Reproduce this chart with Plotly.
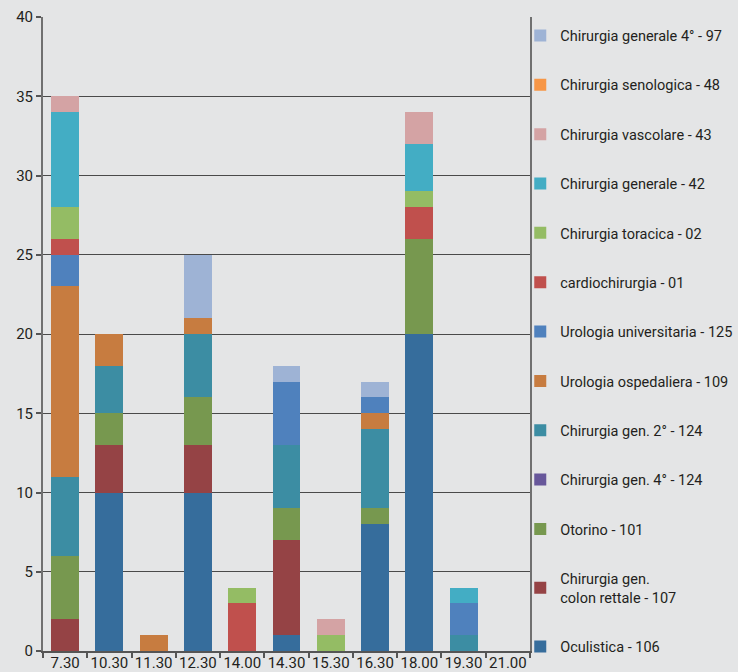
import plotly.graph_objects as go

categories = ["7.30", "10.30", "11.30", "12.30", "14.00", "14.30", "15.30", "16.30", "18.00", "19.30", "21.00"]

# series listed bottom of stack -> top
oculistica        = [0, 10, 0, 10, 0, 1, 0, 8, 20, 0, 0]
colon_rettale     = [2, 3, 0, 3, 0, 6, 0, 0, 0, 0, 0]
otorino           = [4, 2, 0, 3, 0, 2, 0, 1, 6, 0, 0]
gen4_124          = [0, 0, 0, 0, 0, 0, 0, 0, 0, 0, 0]
gen2_124          = [5, 3, 0, 4, 0, 4, 0, 5, 0, 1, 0]
urol_osp          = [12, 2, 1, 1, 0, 0, 0, 1, 0, 0, 0]
urol_univ         = [2, 0, 0, 0, 0, 4, 0, 1, 0, 2, 0]
cardio            = [1, 0, 0, 0, 3, 0, 0, 0, 2, 0, 0]
toracica          = [2, 0, 0, 0, 1, 0, 1, 0, 1, 0, 0]
generale_42       = [6, 0, 0, 0, 0, 0, 0, 0, 3, 1, 0]
vascolare         = [1, 0, 0, 0, 0, 0, 1, 0, 2, 0, 0]
senologica        = [0, 0, 0, 0, 0, 0, 0, 0, 0, 0, 0]
gen4_97           = [0, 0, 0, 4, 0, 1, 0, 1, 0, 0, 0]

series = [
    ("Oculistica - 106", oculistica, "#366D9C"),
    ("Chirurgia gen.<br>colon rettale - 107", colon_rettale, "#954345"),
    ("Otorino - 101", otorino, "#77984F"),
    ("Chirurgia gen. 4° - 124", gen4_124, "#67579A"),
    ("Chirurgia gen. 2° - 124", gen2_124, "#3C8DA3"),
    ("Urologia ospedaliera - 109", urol_osp, "#C77C40"),
    ("Urologia universitaria - 125", urol_univ, "#4F81BD"),
    ("cardiochirurgia - 01", cardio, "#C0504D"),
    ("Chirurgia toracica - 02", toracica, "#94BC64"),
    ("Chirurgia generale - 42", generale_42, "#43ADC4"),
    ("Chirurgia vascolare - 43", vascolare, "#D4A3A4"),
    ("Chirurgia senologica - 48", senologica, "#F79646"),
    ("Chirurgia generale 4° - 97", gen4_97, "#9EB3D5"),
]

FONT = "Roboto, Open Sans, sans-serif"
TXT = "#231F20"
BG = "#E4E5E6"

fig = go.Figure()
n = len(series)
for i, (name, vals, col) in enumerate(series):
    fig.add_trace(go.Bar(
        x=categories, y=vals, name=name, marker=dict(color=col, line=dict(width=0)),
        legendgroup=f"g{i}", legendrank=n - i,
    ))

fig.update_layout(
    barmode="stack",
    bargap=0.37,
    width=738, height=672,
    margin=dict(l=43, r=208, t=17, b=21, autoexpand=False),
    paper_bgcolor=BG, plot_bgcolor=BG,
    font=dict(family=FONT, size=15, color=TXT),
    legend=dict(
        x=0.98, xanchor="left", y=0.996, yanchor="top",
        traceorder="grouped", tracegroupgap=27.5,
        font=dict(family=FONT, size=14.5, color=TXT),
        bgcolor="rgba(0,0,0,0)", itemwidth=30, maxheight=671,
    ),
    xaxis=dict(
        showline=True, linecolor="#555555", linewidth=1.5,
        ticks="outside", tickson="boundaries", ticklen=5, tickcolor="#555555", tickwidth=1.5,
        tickfont=dict(family=FONT, size=15, color=TXT), tickangle=0, ticklabelstandoff=-3,
        showgrid=False, fixedrange=True,
    ),
    yaxis=dict(
        range=[0, 40], dtick=5, tick0=0,
        showline=True, linecolor="#707070", linewidth=2, mirror=True,
        ticks="outside", ticklen=5, tickcolor="#555555", tickwidth=1.5,
        tickfont=dict(family=FONT, size=15, color=TXT),
        showgrid=True, gridcolor="#4A4A4A", gridwidth=1.2,
        zeroline=False, fixedrange=True,
    ),
)

fig.write_html("out.html")
